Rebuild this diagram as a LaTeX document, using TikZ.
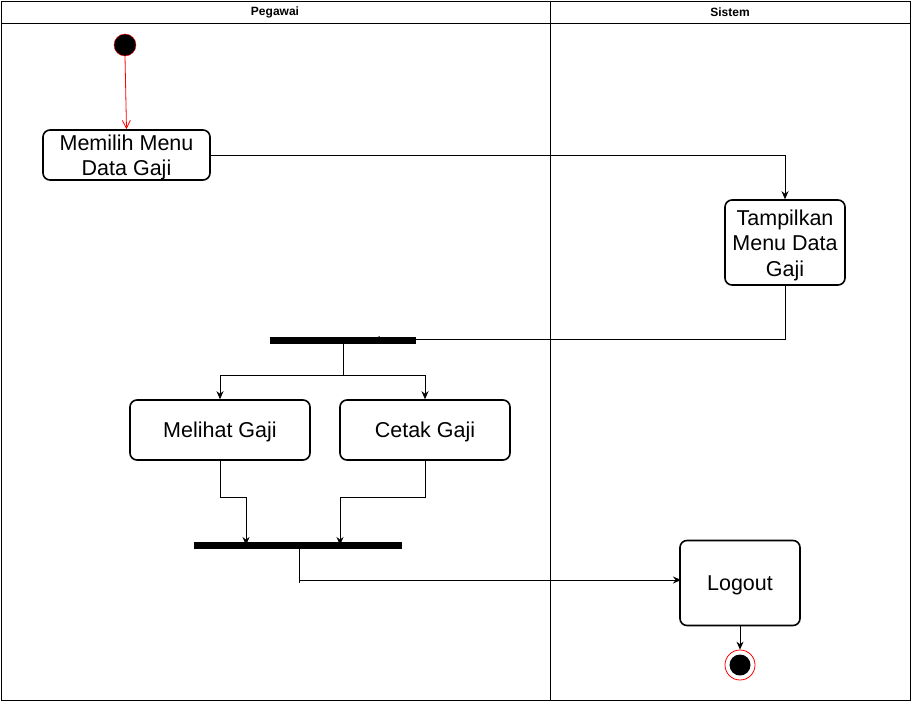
\documentclass[tikz,border=0pt]{standalone}
\usepackage{fontspec}
\setmainfont{Liberation Sans}
\usetikzlibrary{arrows.meta,positioning}
\begin{document}
\begin{tikzpicture}[x=1pt,y=-1pt,
  act/.style={draw,line width=1.6pt,rounded corners=7pt,align=center,font=\fontsize{21.5}{25.5}\selectfont,inner sep=0pt},
  bar/.style={fill=black,draw=black,inner sep=0pt},
  flow/.style={-{Stealth[length=8pt,width=7pt]},line width=0.8pt},
  hdr/.style={font=\bfseries\fontsize{12}{14}\selectfont}]
\useasboundingbox (0,0) rectangle (912,701);
% swimlanes
\draw[line width=0.8pt] (1,1) rectangle (910,700);
\draw[line width=0.8pt] (1,23) -- (910,23);
\draw[line width=0.8pt] (550,1) -- (550,700);
\node[hdr] (hp) at (275,12.5) {Pegawai};
\node[hdr] (hs) at (730,12.5) {Sistem};
% nodes
\node[circle,fill=black,draw=red,minimum size=22pt,inner sep=0pt] (start) at (125,45) {};
\node[act,minimum width=167pt,minimum height=50pt] (memilih) at (126.5,155) {};
\node[font=\fontsize{21.5}{25.5}\selectfont,align=center,yshift=-2.5pt] (memt) at (memilih) {Memilih Menu\\Data Gaji};
\node[act,minimum width=120pt,minimum height=85pt] (tampil) at (785,242.5) {};
\node[font=\fontsize{21.5}{25.5}\selectfont,align=center,yshift=-2.5pt] (tamt) at (tampil) {Tampilkan\\Menu Data\\Gaji};
\node[act,minimum width=180pt,minimum height=60pt] (melihat) at (220,430) {};
\node[font=\fontsize{21.5}{25.5}\selectfont,yshift=-1.5pt] (melt) at (melihat) {Melihat Gaji};
\node[act,minimum width=170pt,minimum height=60pt] (cetak) at (425,430) {};
\node[font=\fontsize{21.5}{25.5}\selectfont,yshift=-1.5pt] (cett) at (cetak) {Cetak Gaji};
\node[act,minimum width=120pt,minimum height=85pt] (logout) at (740,583) {};
\node[font=\fontsize{21.5}{25.5}\selectfont,yshift=-2pt] (logt) at (logout) {Logout};
\node[circle,draw=red,fill=white,minimum size=30pt,inner sep=0pt,line width=0.8pt] (endo) at (740,665) {};
\node[circle,fill=black,minimum size=21pt,inner sep=0pt] (endi) at (740,665) {};
% connectors
\draw[red,-{Straight Barb[length=8pt,width=8pt]},line width=0.8pt] (start.south) -- (memilih.north);
\draw[flow] (memilih.east) -- (785,155) -- (tampil.north);
\coordinate (forkin) at (372,339.5);
\draw[flow] (tampil.south) -- (785,339.5) -- (forkin);
\node[bar,minimum width=145pt,minimum height=5.5pt] (fork) at (342.5,340) {};
\draw[flow] (343,342.5) -- (343,375) -- (220,375) -- (melihat.north);
\draw[flow] (343,375) -- (425,375) -- (cetak.north);
\coordinate (j1) at (246,545);
\coordinate (j2) at (340,545);
\draw[flow] (melihat.south) -- (220,497) -- (246,497) -- (j1);
\draw[flow] (cetak.south) -- (425,497) -- (340,497) -- (j2);
\node[bar,minimum width=207pt,minimum height=5.5pt] (join) at (297.5,545) {};
\draw[line width=0.8pt] (299,547.5) -- (299,583);
\coordinate (lin) at (681,580);
\draw[flow] (300,580) -- (lin);
\draw[flow] (logout.south) -- (endo.north);
\end{tikzpicture}
\end{document}
